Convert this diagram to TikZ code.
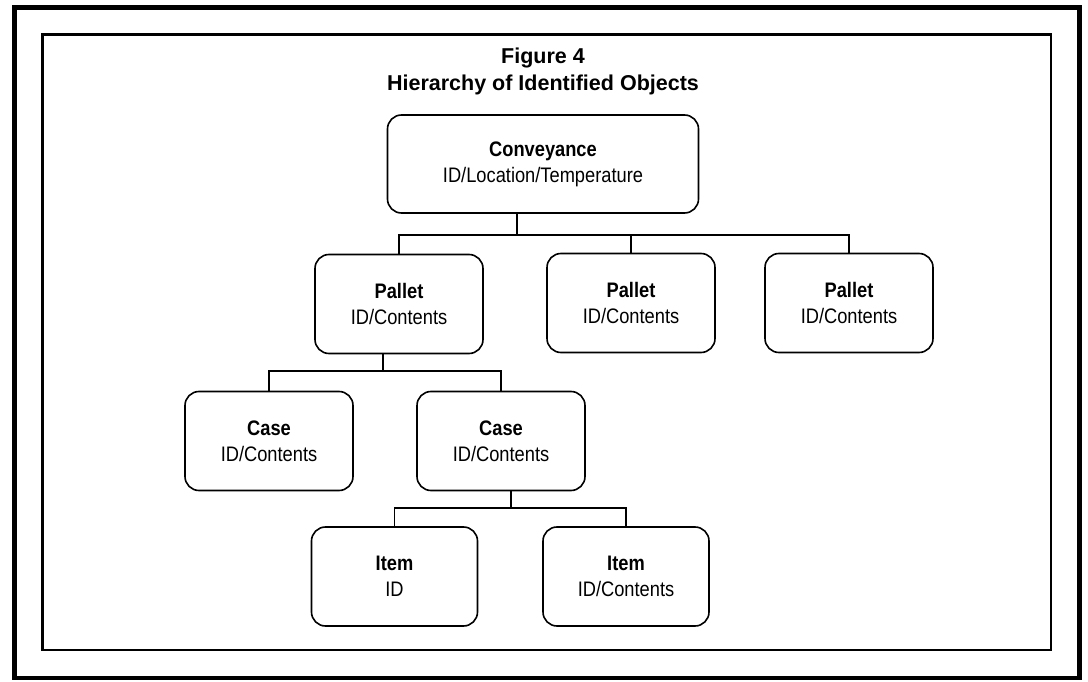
\documentclass[tikz,border=0pt]{standalone}
\usepackage{fontspec}
\setmainfont{Liberation Sans}
\newfontfamily\boxfont[FakeStretch=0.87]{Liberation Sans}
\usetikzlibrary{positioning}

\tikzset{
  objbox/.style={draw, line width=1.6pt, rounded corners=14pt, align=center, inner sep=0pt,
    minimum width=168pt, minimum height=99pt, font=\boxfont\fontsize{21}{26}\selectfont},
  link/.style={line width=1.4pt},
}

\begin{document}
\begin{tikzpicture}[x=1pt,y=-1pt]
\useasboundingbox (0,0) rectangle (1088,682);
\draw[line width=4.5pt] (14.5,7.5) rectangle (1079.5,678);
\draw[line width=2.2pt] (42.5,34.5) rectangle (1051,650);
\node (title) at (543,71) [align=center, font=\bfseries\fontsize{21.5}{27}\selectfont] {Figure 4\\Hierarchy of Identified Objects};
% objects
\node[objbox, minimum width=311pt, minimum height=98pt] (conv) at (543,164) {\textbf{Conveyance}\\ID/Location/Temperature};
\node[objbox] (pal1) at (399,304) {\textbf{Pallet}\\ID/Contents};
\node[objbox] (pal2) at (631,303) {\textbf{Pallet}\\ID/Contents};
\node[objbox] (pal3) at (849,303) {\textbf{Pallet}\\ID/Contents};
\node[objbox] (case1) at (269,441) {\textbf{Case}\\ID/Contents};
\node[objbox] (case2) at (501,441) {\textbf{Case}\\ID/Contents};
\node[objbox, minimum width=166pt] (item1) at (394.5,576.5) {\textbf{Item}\\ID};
\node[objbox, minimum width=166pt] (item2) at (626,576.5) {\textbf{Item}\\ID/Contents};
% tree lines
\coordinate (cj) at (517,235);
\coordinate (pj) at (383,371);
\coordinate (kj) at (511,508);
\draw[link] (conv.south -| cj) -- (cj);
\draw[link] (pal1.north) |- (cj) -| (pal3.north);
\draw[link] (pal2.north) -- (pal2.north |- cj);
\draw[link] (pal1.south -| pj) -- (pj);
\draw[link] (case1.north) |- (pj) -| (case2.north);
\draw[link] (case2.south -| kj) -- (kj);
\draw[link] (item1.north) |- (kj) -| (item2.north);
\end{tikzpicture}
\end{document}
